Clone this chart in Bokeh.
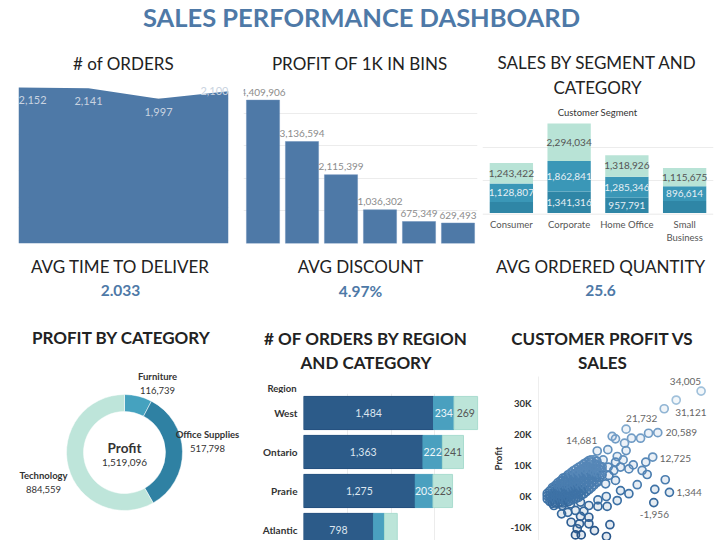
import math
from bokeh.plotting import figure
from bokeh.layouts import column, row
from bokeh.models import Range1d, FactorRange, FixedTicker, ColumnDataSource, Span
from bokeh.transform import linear_cmap
from bokeh.core.properties import value
from bokeh.embed import file_html
from bokeh.resources import INLINE

# ---------------- data ----------------
dashboard_title = "SALES PERFORMANCE DASHBOARD"

orders_title = "# of ORDERS"
order_years = ["2009", "2010", "2011", "2012"]
order_counts = [2152, 2141, 1997, 2100]

bins_title = "PROFIT OF 1K IN BINS"
bin_profit = [4409906, 3136594, 2115399, 1036302, 675349, 629493]

seg_title = ["SALES BY SEGMENT AND", "CATEGORY"]
seg_subtitle = "Customer Segment"
segments = ["Consumer", "Corporate", "Home Office", "Small Business"]
seg_office = [705000, 1341316, 957791, 760000]
seg_furniture = [1128807, 1862841, 1285346, 896614]
seg_technology = [1243422, 2294034, 1318926, 1115675]

kpi_labels = ["AVG TIME TO DELIVER", "AVG DISCOUNT", "AVG ORDERED QUANTITY"]
kpi_values = ["2.033", "4.97%", "25.6"]

cat_title = "PROFIT  BY CATEGORY"
categories = ["Furniture", "Office Supplies", "Technology"]
cat_profit = [116739, 517798, 884559]
cat_center_label = "Profit"

region_title = ["# OF ORDERS BY REGION", "AND CATEGORY"]
region_header = "Region"
regions = ["West", "Ontario", "Prarie", "Atlantic"]
reg_office = [1484, 1363, 1275, 798]
reg_furniture = [234, 222, 203, 126]
reg_technology = [269, 241, 223, 146]

scatter_title = ["CUSTOMER PROFIT VS", "SALES"]
profit_ticks = [-10000, 0, 10000, 20000, 30000]
# labelled customers (sales in K, exact profit)
labeled_sales_k = [85.4, 71.1, 42.3, 60.5, 25.7, 57.6, 67.2, 58.2]
labeled_profit = [34005, 31121, 21732, 20589, 14681, 12725, 1344, -1956]
# other outlying customers (sales K, profit K)
outlier_sales_k = [64.2, 55.2, 50.6, 45.4, 34.3, 36.2, 41.4, 42.3, 31.8, 53.6, 46.4, 37.2,
                   40.6, 22.2, 29.1, 39.1, 43.9, 54.4, 51.5, 35.2, 36.2, 64.8, 58.8, 48.7,
                   39.1, 43.9, 37.2, 30.9, 31.4, 26.1, 33.0, 24.1, 20.9, 20.9, 16.1, 15.5,
                   14.2, 10.7, 13.2, 16.5, 20.9, 26.1, 5.2, 0.8, 8.8, 18.0, 13.2, 31.0,
                   32.0, 36.2, 32.4, 30.5, 25.7, 20.9, 16.1, 10.3, 5.6]
outlier_profit_k = [28.3, 20.4, 18.8, 18.8, 19.4, 18.6, 17.2, 14.8, 15.1, 11.1, 10.2, 12.9,
                    11.8, 11.8, 11.8, 9.5, 8.9, 7.1, 8.4, 8.4, 5.2, 5.4, 2.3, 3.8,
                    1.9, 0.9, -1.3, 0.0, -3.2, -3.2, -9.1, -11.0, -6.7, -8.8, -6.4, -8.8,
                    -10.4, -8.3, -12.4, -12.4, -2.9, -1.1, -5.6, -2.9, -5.1, -4.7, -4.5, -12.9,
                    9.5, 11.1, 6.8, 4.1, 4.6, 3.5, -1.8, -2.4, -2.9]
# dense cluster of customers: sales K -> profits K
cluster_rows = {
    -3.0: [-0.8, 0.2, 1.0],
    -1.5: [-1.6, -0.5, 0.6, 1.8],
    0.0: [-2.2, -1.0, 0.0, 1.1, 2.2, 2.9],
    1.5: [-2.0, -0.7, 0.4, 1.6, 2.7, 3.5],
    3.0: [-2.3, -1.2, 0.1, 1.3, 2.4, 3.6, 4.4],
    4.5: [-1.9, -0.6, 0.8, 2.0, 3.1, 4.2, 5.0],
    6.0: [-2.1, -0.9, 0.5, 1.7, 2.9, 4.0, 5.2, 5.9],
    7.5: [-1.5, -0.2, 1.1, 2.4, 3.6, 4.8, 6.2],
    9.0: [-1.7, -0.4, 0.9, 2.2, 3.5, 4.6, 5.8, 7.0],
    10.5: [-1.2, 0.3, 1.6, 2.9, 4.1, 5.4, 6.6, 7.6],
    12.0: [-0.9, 0.5, 1.9, 3.2, 4.5, 5.7, 7.1, 8.3],
    13.5: [-0.6, 0.9, 2.3, 3.7, 5.0, 6.3, 7.5, 8.8],
    15.0: [-0.3, 1.2, 2.6, 4.0, 5.4, 6.8, 8.1, 9.4],
    16.5: [0.4, 1.8, 3.2, 4.6, 6.0, 7.3, 8.6, 9.9],
    18.0: [0.9, 2.3, 3.8, 5.2, 6.5, 7.9, 9.2, 10.5],
    19.5: [1.6, 3.0, 4.4, 5.8, 7.1, 8.5, 9.8, 11.0],
    21.0: [2.2, 3.7, 5.1, 6.4, 7.8, 9.1, 10.4, 11.6],
    22.5: [3.0, 4.5, 5.9, 7.2, 8.5, 9.9, 11.2],
    24.0: [3.8, 5.3, 6.7, 8.0, 9.3, 10.6, 11.9],
    25.5: [4.9, 6.3, 7.6, 8.9, 10.2, 11.4],
    27.0: [6.1, 7.4, 8.7, 9.9],
    28.5: [7.0, 8.4, 9.6],
}

# ---------------- style ----------------
FONT = "Lato"
BLUE = "#4e79a7"
DARK = "#222222"
GRID = "#ececec"


def new_fig(w, h, **kw):
    kw.setdefault("x_axis_location", None)
    kw.setdefault("y_axis_location", None)
    p = figure(width=w, height=h, output_backend="svg", toolbar_location=None,
               frame_align=False, **kw)
    p.outline_line_color = None
    p.min_border_left = p.min_border_right = p.min_border_top = p.min_border_bottom = 0
    p.background_fill_color = "white"
    p.border_fill_color = "white"
    return p


def text_fig(w, h, items):
    p = new_fig(w, h, x_range=Range1d(0, w), y_range=Range1d(h, 0))
    p.grid.visible = False
    for (x, y, t, size, style, color, align) in items:
        p.text(x=[x], y=[y], text=[t], text_font=value(FONT), text_font_size=size,
               text_font_style=style, text_color=color, text_align=align,
               text_baseline="middle")
    return p


# ---------------- header ----------------
header = text_fig(720, 40, [(361, 16, dashboard_title, "25.5px", "bold", BLUE, "center")])

# ---------------- # of orders (area) ----------------
t1 = text_fig(240, 40, [(123, 22.5, orders_title, "17px", "normal", DARK, "center")])
f1 = new_fig(240, 170, x_range=Range1d(0, len(order_counts) - 1), y_range=Range1d(0, 2248))
f1.min_border_left = 18
f1.min_border_right = 12
f1.min_border_bottom = 7
f1.xgrid.visible = False
f1.ygrid.ticker = FixedTicker(ticks=[500, 1000, 1500, 2000])
f1.ygrid.grid_line_color = GRID
ord_src = ColumnDataSource(dict(
    x=list(range(len(order_counts))), y=order_counts,
    lab=[f"{v:,}" for v in order_counts],
    align=["left", "center", "center", "right"],
    dy=[13, 13, 13, 0]))
f1.varea(x="x", y1=0, y2="y", source=ord_src, fill_color=BLUE)
f1.text(x="x", y="y", text="lab", source=ord_src, text_align="align", y_offset="dy",
        text_baseline="middle", text_font=value(FONT), text_font_size="11px",
        text_color="#c9d3e0")

# ---------------- profit bins (bars) ----------------
t2 = text_fig(240, 44, [(119.5, 22.5, bins_title, "17px", "normal", DARK, "center")])
f2 = new_fig(240, 166, x_range=Range1d(-0.5, len(bin_profit) - 0.5), y_range=Range1d(0, 4.89e6))
f2.min_border_left = 3
f2.min_border_right = 3
f2.min_border_bottom = 7
f2.xgrid.visible = False
f2.ygrid.ticker = FixedTicker(ticks=[1e6, 2e6, 3e6, 4e6])
f2.ygrid.grid_line_color = GRID
bin_x = list(range(len(bin_profit)))
f2.vbar(x=bin_x, top=bin_profit, width=0.85, fill_color=BLUE, line_color="#6a8fb8", line_width=0.5)
f2.text(x=bin_x, y=bin_profit, text=[f"{v:,}" for v in bin_profit], y_offset=-8,
        text_align="center", text_baseline="middle", text_font=value(FONT),
        text_font_size="10px", text_color="#8c8c8c")

# ---------------- sales by segment (stacked) ----------------
t3 = text_fig(240, 78, [(117, 22, seg_title[0], "17px", "normal", DARK, "center"),
                        (117, 47, seg_title[1], "17px", "normal", DARK, "center"),
                        (117, 72, seg_subtitle, "9.5px", "normal", "#333333", "center")])
f3 = new_fig(240, 95, x_range=FactorRange(*segments), y_range=Range1d(0, 5.8e6))
f3.min_border_left = 2
f3.min_border_right = 7
f3.xgrid.visible = False
f3.ygrid.ticker = FixedTicker(ticks=[2e6, 4e6])
f3.ygrid.grid_line_color = GRID
seg_stack = ["Office Supplies", "Furniture", "Technology"]
seg_colors = ["#2f86a6", "#3a97b7", "#b8e3d6"]
seg_txt_colors = ["#e6eff4", "#e6eff4", "#555555"]
seg_src = ColumnDataSource(dict(segment=segments, **{
    "Office Supplies": seg_office, "Furniture": seg_furniture, "Technology": seg_technology}))
f3.vbar_stack(seg_stack, x="segment", width=0.75, color=seg_colors, line_color=None, source=seg_src)
seg_vals = [seg_office, seg_furniture, seg_technology]
for k in range(3):
    xs, ys, ls = [], [], []
    for i, s in enumerate(segments):
        base = sum(seg_vals[j][i] for j in range(k))
        v = seg_vals[k][i]
        if v >= 800000:
            xs.append(s)
            ys.append(base + v / 2)
            ls.append(f"{v:,}")
    f3.text(x=xs, y=ys, text=ls, text_align="center", text_baseline="middle",
            text_font=value(FONT), text_font_size="10px", text_color=seg_txt_colors[k])

# category labels strip (wrapped like the reference)
s3 = new_fig(240, 37, x_range=f3.x_range, y_range=Range1d(37, 0))
s3.min_border_left = 2
s3.min_border_right = 7
s3.grid.visible = False
s3.add_layout(Span(location=0.5, dimension="width", line_color="#e2e2e2", line_width=1))
l1x, l1t, l2x, l2t = [], [], [], []
for s in segments:
    parts = s.split(" ", 1) if len(s) > 12 else [s]
    l1x.append(s)
    l1t.append(parts[0])
    if len(parts) > 1:
        l2x.append(s)
        l2t.append(parts[1])
s3.text(x=l1x, y=[11] * len(l1x), text=l1t, text_align="center", text_baseline="middle",
        text_font=value(FONT), text_font_size="9.5px", text_color="#555555")
s3.text(x=l2x, y=[24] * len(l2x), text=l2t, text_align="center", text_baseline="middle",
        text_font=value(FONT), text_font_size="9.5px", text_color="#555555")

# ---------------- KPI row ----------------
kpi = new_fig(720, 60, x_range=Range1d(0, len(kpi_labels)), y_range=Range1d(60, 0))
kpi.grid.visible = False
kx = [i + 0.5 for i in range(len(kpi_labels))]
kpi.text(x=kx, y=[16] * 3, text=kpi_labels, text_align="center", text_baseline="middle",
         text_font=value(FONT), text_font_size="17px", text_color=DARK)
kpi.text(x=kx, y=[40] * 3, text=kpi_values, text_align="center", text_baseline="middle",
         text_font=value(FONT), text_font_size="15.5px", text_font_style="bold", text_color=BLUE)

# ---------------- profit by category (donut) ----------------
t4 = text_fig(240, 45, [(123, 27, cat_title, "17px", "bold", DARK, "center")])
f4 = new_fig(240, 185, x_range=Range1d(-124, 116), y_range=Range1d(-88, 97))
f4.grid.visible = False
total = sum(cat_profit)
cum = [0]
for v in cat_profit:
    cum.append(cum[-1] + v)
starts = [math.pi / 2 - 2 * math.pi * c / total for c in cum[:-1]]
ends = [math.pi / 2 - 2 * math.pi * c / total for c in cum[1:]]
cat_colors = ["#45a2bf", "#2f81a3", "#bee5da"]
f4.annular_wedge(x=0, y=0, inner_radius=41, outer_radius=58, start_angle=starts,
                 end_angle=ends, direction="clock", fill_color=cat_colors,
                 line_color="white", line_width=0.5)
lab_dx = [33, 83, -81]
lab_dy = [76, 18, -23]
f4.text(x=lab_dx, y=lab_dy, text=categories, text_align="center", text_baseline="middle",
        text_font=value(FONT), text_font_size="9.5px", text_font_style="bold", text_color="#333333")
f4.text(x=lab_dx, y=[d - 13.5 for d in lab_dy], text=[f"{v:,}" for v in cat_profit],
        text_align="center", text_baseline="middle", text_font=value(FONT),
        text_font_size="9.5px", text_color="#333333")
f4.text(x=[0], y=[5], text=[cat_center_label], text_align="center", text_baseline="middle",
        text_font=value(FONT), text_font_size="13.5px", text_font_style="bold", text_color="#333333")
f4.text(x=[0], y=[-10], text=[f"{total:,}"], text_align="center", text_baseline="middle",
        text_font=value(FONT), text_font_size="10px", text_color="#333333")

# ---------------- orders by region (hbar stacked) ----------------
t5 = text_fig(240, 83, [(125.5, 28, region_title[0], "17px", "bold", DARK, "center"),
                        (125.5, 52, region_title[1], "17px", "bold", DARK, "center"),
                        (56, 78, region_header, "9.5px", "bold", "#333333", "right")])
f5 = new_fig(240, 147, x_range=Range1d(0, 2020), y_range=Range1d(3.27, -0.5),
             y_axis_location="left")
f5.min_border_left = 63
f5.ygrid.visible = False
f5.xgrid.ticker = FixedTicker(ticks=[500, 1000, 1500])
f5.xgrid.grid_line_color = GRID
reg_idx = list(range(len(regions)))
reg_stack = ["Office Supplies", "Furniture", "Technology"]
reg_colors = ["#2c5b89", "#4aa0bf", "#bce5d9"]
reg_lines = ["#1f4c7c", "#4aa0bf", "#a9dccf"]
reg_txt = ["#dde6ef", "#eef6fa", "#555555"]
reg_src = ColumnDataSource(dict(idx=reg_idx, **{
    "Office Supplies": reg_office, "Furniture": reg_furniture, "Technology": reg_technology}))
f5.hbar_stack(reg_stack, y="idx", height=0.85, color=reg_colors, line_color=reg_lines,
              line_width=1, source=reg_src)
reg_vals = [reg_office, reg_furniture, reg_technology]
for k in range(3):
    xs, ys, ls = [], [], []
    for i in reg_idx:
        base = sum(reg_vals[j][i] for j in range(k))
        v = reg_vals[k][i]
        if v >= 150:
            xs.append(base + v / 2)
            ys.append(i)
            ls.append(f"{v:,}")
    f5.text(x=xs, y=ys, text=ls, text_align="center", text_baseline="middle",
            text_font=value(FONT), text_font_size="10.5px", text_color=reg_txt[k])
ax5 = f5.yaxis[0]
ax5.ticker = FixedTicker(ticks=reg_idx)
ax5.major_label_overrides = {i: r for i, r in zip(reg_idx, regions)}
ax5.axis_line_color = None
ax5.major_tick_line_color = None
ax5.minor_tick_line_color = None
ax5.major_tick_out = 0
ax5.major_tick_in = 0
ax5.major_label_standoff = 6
ax5.major_label_text_font = FONT
ax5.major_label_text_font_size = "10px"
ax5.major_label_text_font_style = "bold"
ax5.major_label_text_color = "#333333"

# ---------------- customer profit vs sales (scatter) ----------------
t6 = text_fig(240, 66, [(122, 28, scatter_title[0], "17px", "bold", DARK, "center"),
                        (122, 52, scatter_title[1], "17px", "bold", DARK, "center")])
f6 = new_fig(240, 164, x_range=Range1d(-8050, 96550), y_range=Range1d(-14194, 38710),
             y_axis_location="left")
f6.min_border_left = 58
f6.grid.visible = False
cl_sales, cl_profit = [], []
for s, plist in cluster_rows.items():
    for pr in plist:
        cl_sales.append(s * 1000)
        cl_profit.append(pr * 1000)
all_sales = [s * 1000 for s in labeled_sales_k] + [s * 1000 for s in outlier_sales_k] + cl_sales
all_profit = labeled_profit + [p * 1000 for p in outlier_profit_k] + cl_profit
palette = ["#29568a", "#2f5f94", "#36699d", "#3e72a6", "#4a7daf", "#5687b7",
           "#6492be", "#729dc6", "#81a9cd", "#91b5d4", "#a1c1db"]
sc_src = ColumnDataSource(dict(sales=all_sales, profit=all_profit))
cmap = linear_cmap("profit", palette, -15000, 34000)
f6.scatter(x="sales", y="profit", source=sc_src, size=8, fill_color=cmap, fill_alpha=0.13,
           line_width=1.7, line_color=cmap)
lab_align = ["right", "left", "left", "left", "right", "left", "left", "left"]
lab_xo = [0, -1, 0, 8, 0, 7, 7, -14]
lab_yo = [-10, 12, -11, 0, -10, 1, 0, 12]
lab_src = ColumnDataSource(dict(x=[s * 1000 for s in labeled_sales_k], y=labeled_profit,
                                t=[f"{v:,}" for v in labeled_profit], a=lab_align,
                                xo=lab_xo, yo=lab_yo))
f6.text(x="x", y="y", text="t", source=lab_src, text_align="a", x_offset="xo", y_offset="yo",
        text_baseline="middle", text_font=value(FONT), text_font_size="10px", text_color="#666666")
ax6 = f6.yaxis[0]
ax6.ticker = FixedTicker(ticks=profit_ticks)
ax6.major_label_overrides = {t: f"{int(t / 1000)}K" for t in profit_ticks}
ax6.axis_label = "Profit"
ax6.axis_label_text_font = FONT
ax6.axis_label_text_font_size = "9.5px"
ax6.axis_label_text_font_style = "bold"
ax6.axis_label_text_color = "#333333"
ax6.axis_label_standoff = 3
ax6.axis_line_color = "#eeeeee"
ax6.major_tick_line_color = None
ax6.minor_tick_line_color = None
ax6.major_tick_out = 0
ax6.major_tick_in = 0
ax6.major_label_standoff = 7
ax6.major_label_text_font = FONT
ax6.major_label_text_font_size = "9.5px"
ax6.major_label_text_font_style = "bold"
ax6.major_label_text_color = "#333333"

# ---------------- layout ----------------
layout = column(
    header,
    row(column(t1, f1), column(t2, f2), column(t3, f3, s3)),
    kpi,
    row(column(t4, f4), column(t5, f5), column(t6, f6)),
)

open("out.html", "w").write(file_html(layout, INLINE))
